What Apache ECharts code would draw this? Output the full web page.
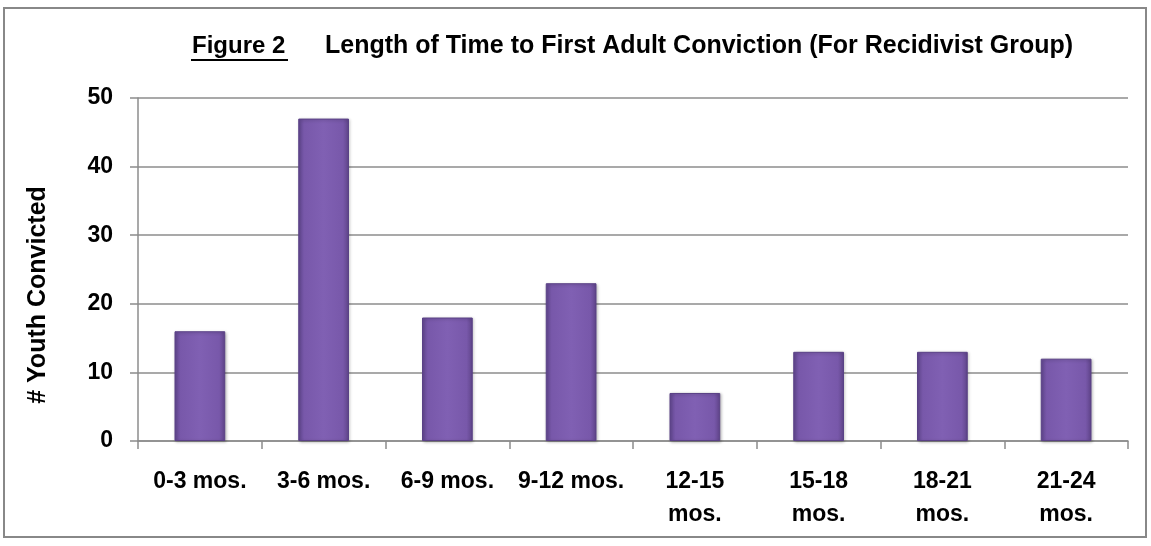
<!DOCTYPE html>
<html>
	<head>
		<meta charset="utf-8">
		<title>Figure 2</title>
		<script src="https://cdn.jsdelivr.net/npm/echarts@6/dist/echarts.min.js"></script>
		<style>
			body { margin: 0; background: #fff; }
		</style>
	</head>
	<body>
		<div id="main" style="width: 1151px;height:546px;"></div>
		<script type="text/javascript">
			// data
			var categories = ['0-3 mos.', '3-6 mos.', '6-9 mos.', '9-12 mos.', '12-15\nmos.', '15-18\nmos.', '18-21\nmos.', '21-24\nmos.'];
			var youthConvicted = [16, 47, 18, 23, 7, 13, 13, 12];
			var yTicks = [0, 10, 20, 30, 40, 50];

			var font = 'Liberation Sans, Arial, sans-serif';
			var gray = '#8c8c8c';

			var myChart = echarts.init(document.getElementById('main'));

			var option = {
				backgroundColor: '#fff',
				animation: false,
				title: [{
					text: 'Figure 2',
					left: 192,
					top: 34,
					padding: 0,
					textStyle: { fontFamily: font, fontWeight: 'bold', fontSize: 24, color: '#000' }
				}, {
					text: 'Length of Time to First Adult Conviction (For Recidivist Group)',
					left: 325,
					top: 34,
					padding: 0,
					textStyle: { fontFamily: font, fontWeight: 'bold', fontSize: 25, color: '#000' }
				}],
				grid: {
					left: 138,
					right: 23,
					top: 98,
					bottom: 105
				},
				xAxis: {
					type: 'category',
					data: categories,
					axisLine: { lineStyle: { color: gray, width: 1.5 } },
					axisTick: { show: true, length: 8, lineStyle: { color: gray, width: 1.5 } },
					axisLabel: {
						interval: 0,
						margin: 24,
						fontFamily: font,
						fontWeight: 'bold',
						fontSize: 23,
						lineHeight: 33,
						color: '#000'
					}
				},
				yAxis: {
					type: 'value',
					min: yTicks[0],
					max: yTicks[yTicks.length - 1],
					interval: 10,
					axisLine: { show: true, lineStyle: { color: gray, width: 1.5 } },
					axisTick: { show: true, length: 8, lineStyle: { color: gray, width: 1.5 } },
					splitLine: { lineStyle: { color: gray, width: 1.5 } },
					axisLabel: {
						margin: 25,
						fontFamily: font,
						fontWeight: 'bold',
						fontSize: 23,
						color: '#000'
					}
				},
				graphic: [{
					// outer frame
					type: 'rect',
					shape: { x: 4, y: 8, width: 1142, height: 529 },
					style: { fill: null, stroke: '#888', lineWidth: 2 },
					silent: true
				}, {
					// underline under "Figure 2"
					type: 'line',
					shape: { x1: 191, y1: 60, x2: 288, y2: 60 },
					style: { stroke: '#000', lineWidth: 2 },
					silent: true
				}, {
					// y axis title
					type: 'text',
					x: 38,
					y: 295,
					rotation: Math.PI / 2,
					style: {
						text: '# Youth Convicted',
						fontFamily: font,
						fontWeight: 'bold',
						fontSize: 25,
						fill: '#000',
						align: 'center',
						verticalAlign: 'middle'
					},
					silent: true
				}],
				series: [{
					name: '# Youth Convicted',
					type: 'bar',
					barWidth: '41%',
					data: youthConvicted,
					itemStyle: {
						color: new echarts.graphic.LinearGradient(0, 0, 1, 0, [
							{ offset: 0, color: '#634892' },
							{ offset: 0.12, color: '#7858aa' },
							{ offset: 0.5, color: '#8060b3' },
							{ offset: 0.88, color: '#7858aa' },
							{ offset: 1, color: '#5f4489' }
						]),
						borderColor: '#5a4186',
						borderWidth: 1,
						shadowColor: 'rgba(0,0,0,0.25)',
						shadowBlur: 3,
						shadowOffsetX: 1,
						shadowOffsetY: 1
					}
				}]
			};

			myChart.setOption(option);
		</script>
	</body>
</html>
